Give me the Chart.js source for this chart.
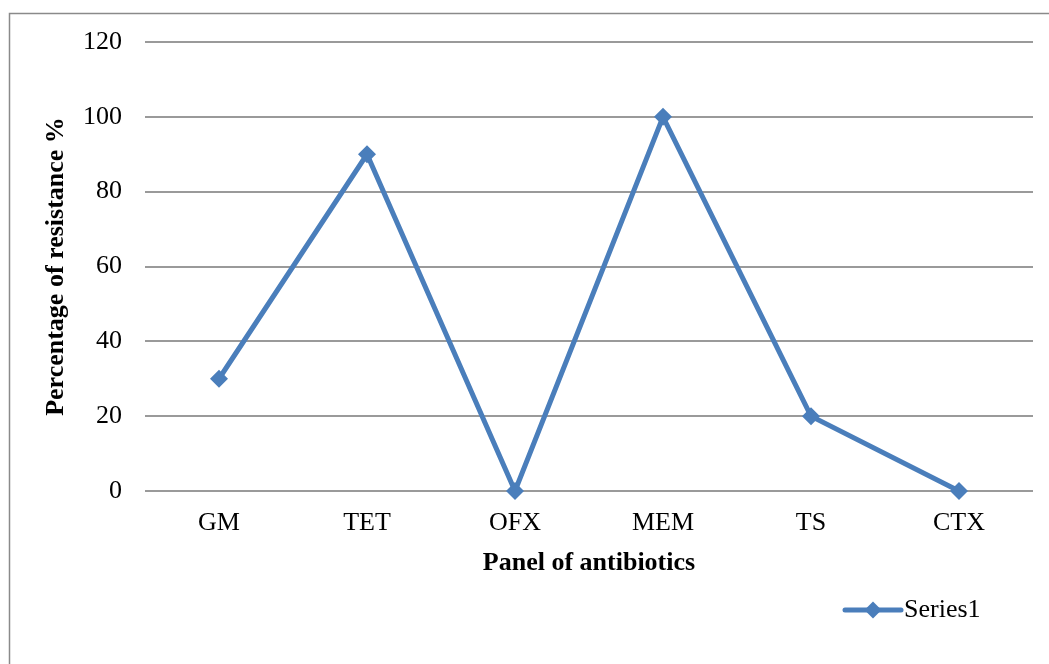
<!DOCTYPE html>
<html>
<head>
<meta charset="utf-8">
<script src="https://cdn.jsdelivr.net/npm/chart.js@4/dist/chart.umd.min.js"></script>
<style>
  html, body { margin: 0; padding: 0; background: #ffffff; }
  #wrap { width: 1049px; height: 664px; position: relative; }
</style>
</head>
<body>
<div id="wrap"><canvas id="chart" width="1049" height="664"></canvas></div>
<script>
// Antibiotic panel and resistance percentages
const antibiotics = ['GM', 'TET', 'OFX', 'MEM', 'TS', 'CTX'];
const resistance = [30, 90, 0, 100, 20, 0];
const seriesName = 'Series1';
const xTitle = 'Panel of antibiotics';
const yTitle = 'Percentage of resistance %';

const SERIF = '"Liberation Serif", "Times New Roman", serif';
const LINE_BLUE = '#4a7ebb';

// Outer frame around the chart object
const framePlugin = {
  id: 'frame',
  beforeDraw(chart) {
    const ctx = chart.ctx;
    ctx.save();
    ctx.strokeStyle = '#8a8a8a';
    ctx.lineWidth = 1.5;
    ctx.beginPath();
    ctx.moveTo(9.5, 700);
    ctx.lineTo(9.5, 13.5);
    ctx.lineTo(1100, 13.5);
    ctx.stroke();
    ctx.restore();
  }
};

// Legend entry: line segment with a diamond marker, then the series name
const legendPlugin = {
  id: 'lineLegend',
  afterDraw(chart) {
    const ctx = chart.ctx;
    const ds = chart.data.datasets[0];
    const x0 = 845, x1 = 901, y = 610;
    ctx.save();
    ctx.strokeStyle = ds.borderColor;
    ctx.lineWidth = 5;
    ctx.lineCap = 'round';
    ctx.beginPath();
    ctx.moveTo(x0, y);
    ctx.lineTo(x1, y);
    ctx.stroke();
    const cx = (x0 + x1) / 2, r = 8.5;
    ctx.fillStyle = ds.pointBackgroundColor;
    ctx.beginPath();
    ctx.moveTo(cx, y - r);
    ctx.lineTo(cx + r, y);
    ctx.lineTo(cx, y + r);
    ctx.lineTo(cx - r, y);
    ctx.closePath();
    ctx.fill();
    ctx.fillStyle = '#000000';
    ctx.font = '26px ' + SERIF;
    ctx.textBaseline = 'middle';
    ctx.textAlign = 'left';
    ctx.fillText(ds.label, 904, y);
    ctx.restore();
  }
};

new Chart(document.getElementById('chart'), {
  type: 'line',
  data: {
    labels: antibiotics,
    datasets: [{
      label: seriesName,
      data: resistance,
      borderColor: LINE_BLUE,
      backgroundColor: LINE_BLUE,
      pointBackgroundColor: LINE_BLUE,
      pointBorderColor: LINE_BLUE,
      borderWidth: 5,
      pointStyle: 'rectRot',
      pointRadius: 9,
      pointBorderWidth: 0,
      tension: 0,
      clip: false
    }]
  },
  options: {
    responsive: false,
    animation: false,
    devicePixelRatio: 1,
    layout: { padding: { top: 42, right: 16, bottom: 0, left: 0 } },
    plugins: {
      legend: { display: false },
      tooltip: { enabled: false }
    },
    scales: {
      x: {
        offset: true,
        grid: { display: false, drawTicks: false },
        border: { display: false },
        ticks: {
          color: '#000000',
          font: { family: SERIF, size: 26 },
          padding: 17,
          maxRotation: 0
        },
        title: {
          display: true,
          text: xTitle,
          color: '#000000',
          font: { family: SERIF, size: 26, weight: 'bold' },
          padding: { top: 0, bottom: 85 }
        },
        afterFit(scale) { scale.height = 173; }
      },
      y: {
        min: 0,
        max: 120,
        grid: { color: '#9a9a9a', lineWidth: 2, drawTicks: false },
        border: { display: false },
        ticks: {
          stepSize: 20,
          color: '#000000',
          font: { family: SERIF, size: 26 },
          padding: 23
        },
        title: {
          display: true,
          text: yTitle,
          color: '#000000',
          font: { family: SERIF, size: 26, weight: 'bold' },
          padding: { top: 41, bottom: 0 }
        },
        afterFit(scale) { scale.width = 145; }
      }
    }
  },
  plugins: [framePlugin, legendPlugin]
});
</script>
</body>
</html>
